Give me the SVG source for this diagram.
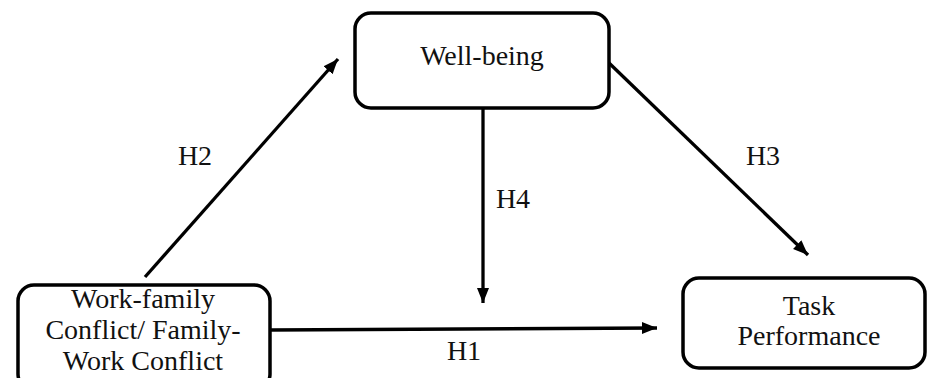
<svg xmlns="http://www.w3.org/2000/svg" width="929" height="378" viewBox="0 0 929 378">
<style>
.box{fill:#fff;stroke:#000;stroke-width:3.5}
.t{font-family:"Liberation Serif","DejaVu Serif",serif;font-size:28px;fill:#111;text-anchor:middle}
.c{stroke:#000;stroke-width:3.3;fill:none;marker-end:url(#ah)}
</style>
<defs>
<marker id="ah" markerUnits="userSpaceOnUse" markerWidth="16" markerHeight="14" viewBox="0 0 16 14" refX="15" refY="7" orient="auto">
<path d="M0,1 L15,7 L0,13 Z" fill="#000"/>
</marker>
</defs>
<rect width="929" height="378" fill="#fff"/>
<g id="connectors">
<line class="c" x1="145" y1="277" x2="338" y2="59"/>
<line class="c" x1="608" y1="62" x2="808" y2="255"/>
<line class="c" x1="483" y1="108" x2="483" y2="303"/>
<line class="c" x1="270" y1="330" x2="657" y2="328"/>
<text class="t" x="195" y="165">H2</text>
<text class="t" x="763" y="165">H3</text>
<text class="t" x="513" y="208">H4</text>
<text class="t" x="464" y="360">H1</text>
</g>
<g id="wellbeing">
<rect class="box" x="355" y="13" width="254" height="95" rx="16"/>
<text class="t" x="482" y="65">Well-being</text>
</g>
<g id="wfc">
<rect class="box" x="18" y="285" width="252" height="105" rx="16"/>
<text class="t" x="143" y="308">Work-family</text>
<text class="t" x="143" y="339">Conflict/ Family-</text>
<text class="t" x="143" y="370">Work Conflict</text>
</g>
<g id="task">
<rect class="box" x="683" y="278" width="242" height="90" rx="16"/>
<text class="t" x="809" y="315">Task</text>
<text class="t" x="809" y="345">Performance</text>
</g>
</svg>
